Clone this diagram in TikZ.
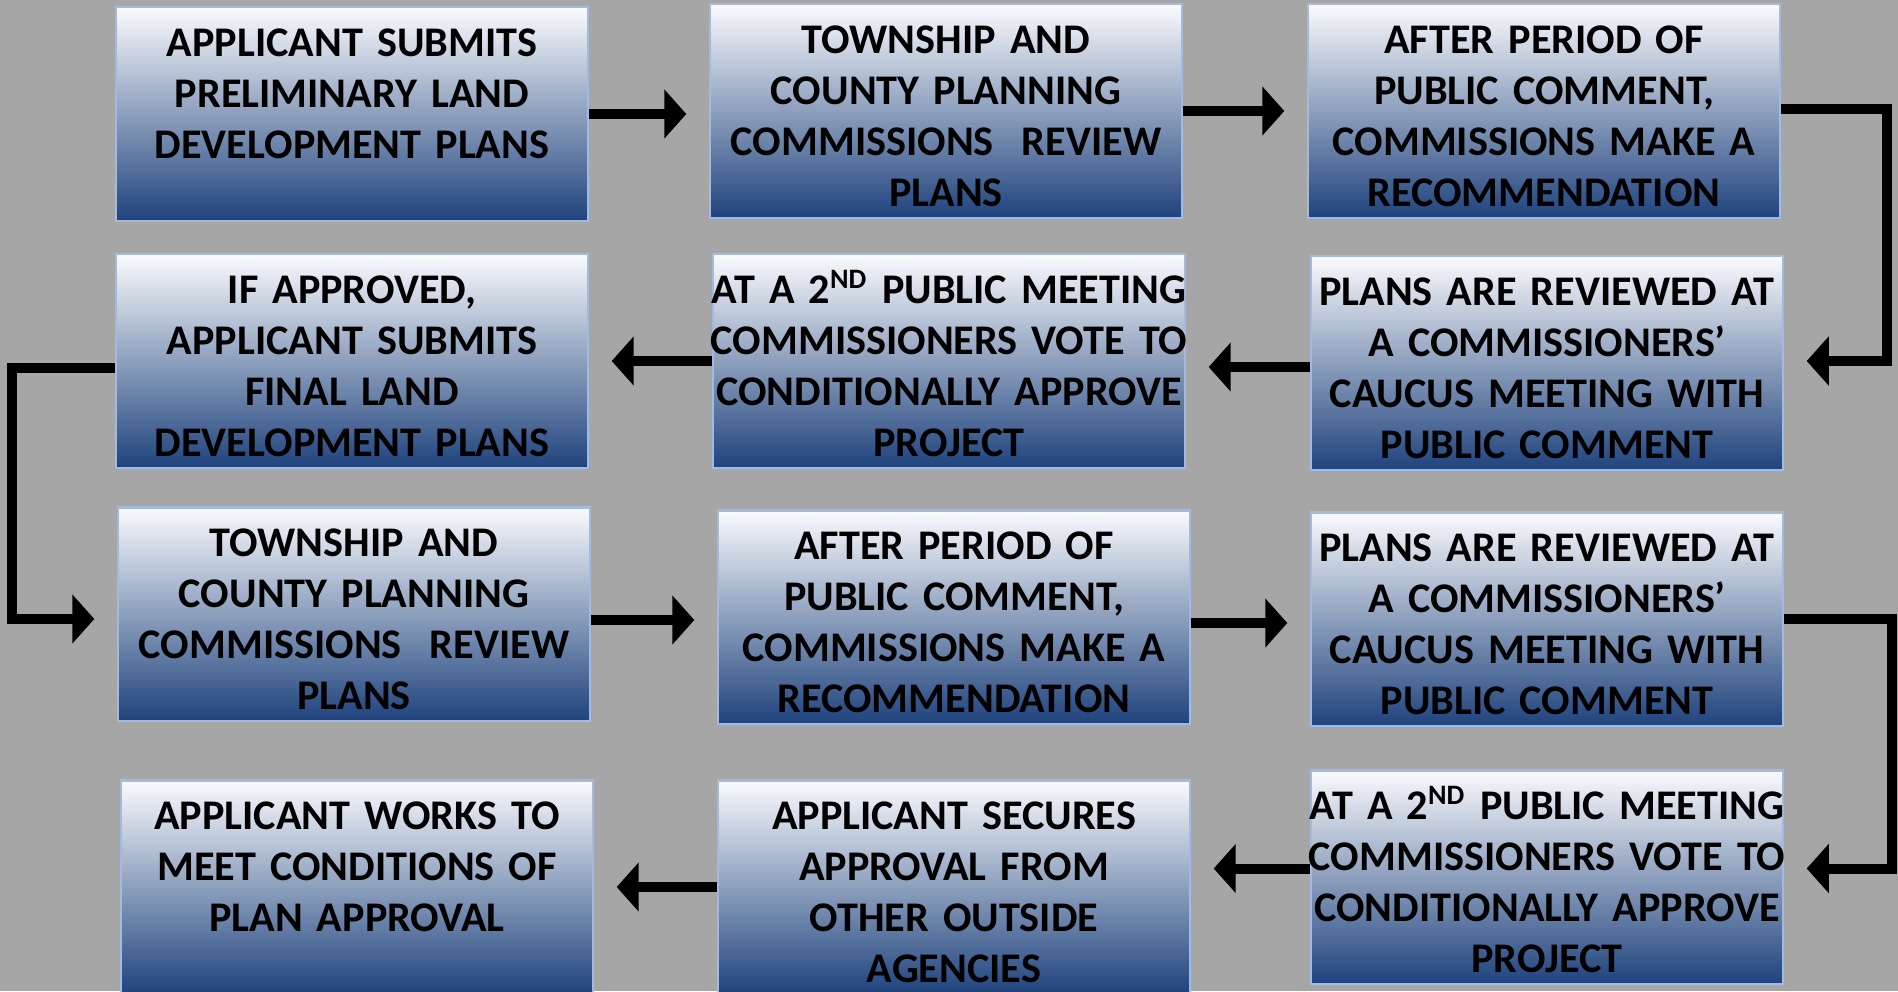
\documentclass[tikz,border=0pt]{standalone}
\usepackage{fontspec}
\setmainfont{Carlito}
\usetikzlibrary{arrows.meta}
\definecolor{bggray}{RGB}{166,166,166}
\definecolor{boxtop}{RGB}{250,251,253}
\definecolor{boxbottom}{RGB}{31,67,125}
\definecolor{boxline}{RGB}{160,186,226}
\tikzset{
  stepbox/.style={rectangle, draw=boxline, line width=0.6pt, top color=boxtop, bottom color=boxbottom,
    text width=4.9cm, align=center, inner xsep=-0.095cm, inner ysep=0pt, minimum width=4.71cm,
    text height=0.49cm, text depth=1.64cm, font=\fontsize{12}{14.5}\selectfont\bfseries},
  flow/.style={-{Triangle[length=0.22cm,width=0.48cm]}, line width=0.1cm, shorten >=0.23cm}
}
\begin{document}
\begin{tikzpicture}[x=0.01cm,y=-0.01cm]
		\clip (0,0) rectangle (1898,991);
		\fill[bggray] (0,0) rectangle (1898,991);
		\node[stepbox] (1) at (352,114) {APPLICANT SUBMITS\\PRELIMINARY LAND\\DEVELOPMENT PLANS};
		\node[stepbox] (2) at (946,111) {TOWNSHIP AND\\COUNTY PLANNING\\COMMISSIONS\ \ REVIEW\\PLANS};
		\node[stepbox] (3) at (1544,111) {AFTER PERIOD OF\\PUBLIC COMMENT,\\COMMISSIONS MAKE A\\RECOMMENDATION};
		\node[stepbox] (4) at (1547,363) {PLANS ARE REVIEWED AT\\A COMMISSIONERS’\\CAUCUS MEETING WITH\\PUBLIC COMMENT};
		\node[stepbox] (5) at (949,361) {AT A 2\smash{\textsuperscript{ND}} PUBLIC MEETING\\COMMISSIONERS VOTE TO\\CONDITIONALLY APPROVE\\PROJECT};
		\node[stepbox] (6) at (352,361) {IF APPROVED,\\APPLICANT SUBMITS\\FINAL LAND\\DEVELOPMENT PLANS};
		\node[stepbox] (7) at (354,614) {TOWNSHIP AND\\COUNTY PLANNING\\COMMISSIONS\ \ REVIEW\\PLANS};
		\node[stepbox] (8) at (954,617) {AFTER PERIOD OF\\PUBLIC COMMENT,\\COMMISSIONS MAKE A\\RECOMMENDATION};
		\node[stepbox] (9) at (1547,619) {PLANS ARE REVIEWED AT\\A COMMISSIONERS’\\CAUCUS MEETING WITH\\PUBLIC COMMENT};
		\node[stepbox] (10) at (1547,877) {AT A 2\smash{\textsuperscript{ND}} PUBLIC MEETING\\COMMISSIONERS VOTE TO\\CONDITIONALLY APPROVE\\PROJECT};
		\node[stepbox] (11) at (954,887) {APPLICANT SECURES\\APPROVAL FROM\\OTHER OUTSIDE\\AGENCIES};
		\node[stepbox] (12) at (357,887) {APPLICANT WORKS TO\\MEET CONDITIONS OF\\PLAN APPROVAL};
		\draw[flow] (1.east) -- (1.east -| 2.west);
		\draw[flow] (2.east) -- (2.east -| 3.west);
		\draw[flow] ([yshift=0.02cm]3.east) -- ++(106,0) |- ([yshift=0.02cm]4.east);
		\draw[flow] ([yshift=-0.04cm]4.west) -- ([yshift=-0.04cm]4.west -| 5.east);
		\draw[flow] (5.west) -- (5.west -| 6.east);
		\draw[flow] ([yshift=-0.07cm]6.west) -- ++(-103,0) |- ([yshift=-0.05cm]7.west);
		\draw[flow] ([yshift=-0.06cm]7.east) -- ([yshift=-0.06cm]7.east -| 8.west);
		\draw[flow] ([yshift=-0.06cm]8.east) -- ([yshift=-0.06cm]8.east -| 9.west);
		\draw[flow] (9.east) -- ++(108,0) |- ([yshift=0.085cm]10.east);
		\draw[flow] ([yshift=0.085cm]10.west) -- ([yshift=0.085cm]10.west -| 11.east);
		\draw[flow] (11.west) -- (11.west -| 12.east);
\end{tikzpicture}
\end{document}
